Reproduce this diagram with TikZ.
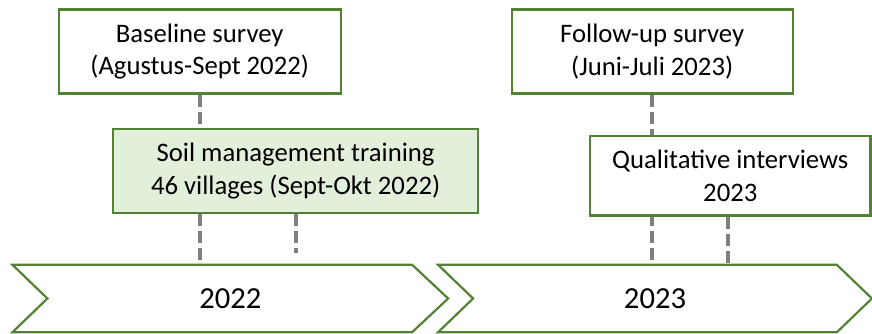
\documentclass[tikz,border=0pt]{standalone}
\usepackage{fontspec}
\setmainfont{Carlito}
\usetikzlibrary{calc,backgrounds}
\definecolor{boxgreen}{HTML}{548235}
\definecolor{trainfill}{HTML}{E2EFDA}
\definecolor{linkgray}{HTML}{7F7F7F}
\tikzset{
  event/.style={draw=boxgreen, line width=2.4pt, fill=white, align=center,
    inner sep=0pt, minimum height=84pt,
    font=\fontsize{26.7}{32.6}\selectfont},
  yearbar/.style={inner sep=0pt, minimum height=67pt,
    font=\fontsize{30.6}{36}\selectfont},
  chevline/.style={draw=boxgreen, line width=2.2pt, line join=miter},
  link/.style={draw=linkgray, line width=4pt, dash pattern=on 12pt off 5pt}
}

\begin{document}
\begin{tikzpicture}[x=1pt,y=-1pt]
        \useasboundingbox (0,0) rectangle (872,333);
        % year arrows
        \node[yearbar, minimum width=435.3pt] (y22) at (230.3,298.5) {2022};
        \node[yearbar, minimum width=433.4pt] (y23) at (655,298.5) {2023};
        \draw[chevline] (y22.north west) -- ($(y22.north east)+(-36,0)$) -- (y22.east)
          -- ($(y22.south east)+(-36,0)$) -- (y22.south west) -- ($(y22.west)+(35,0)$) -- cycle;
        \draw[chevline] (y23.north west) -- ($(y23.north east)+(-35,0)$) -- (y23.east)
          -- ($(y23.south east)+(-35,0)$) -- (y23.south west) -- ($(y23.west)+(35,0)$) -- cycle;

        % events
        \node[event, minimum width=282pt] (base) at (199.7,51.5) {Baseline survey\\(Agustus-Sept 2022)};
        \node[event, minimum width=281pt] (follow) at (652.2,51.5) {Follow-up survey\\(Juni-Juli 2023)};
        \node[event, fill=trainfill, minimum width=365pt] (train) at (295.6,171) {Soil management training\\46 villages (Sept-Okt 2022)};
        \node[event, minimum width=280.7pt, minimum height=79.7pt] (qual) at (730.3,175.8) {Qualitative interviews\\2023};
        \coordinate (trainend) at ($(train.south |- y22.north)+(0,-12)$);

        \begin{scope}[on background layer]
        \draw[link] (base.south) -- (base.south |- y22.north);
        \draw[link] (follow.south) -- (follow.south |- y23.north);
        \end{scope}
        \draw[link] (train.south) -- (trainend);
        \draw[link] ([xshift=-2.5pt]qual.south) -- ([xshift=-2.5pt]qual.south |- y23.north);
      \end{tikzpicture}
\end{document}
